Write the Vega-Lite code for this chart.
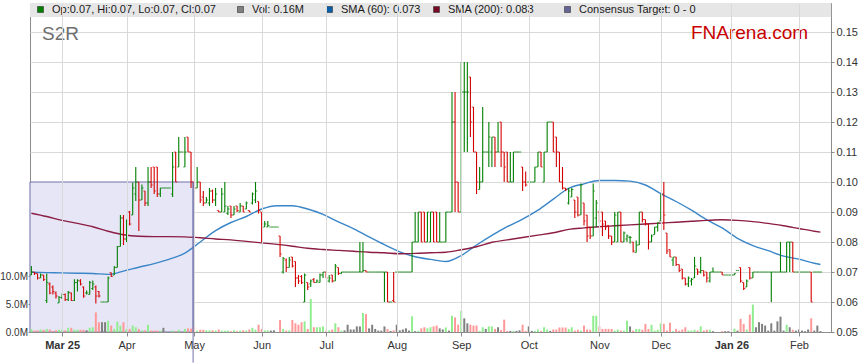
{
"$schema": "https://vega.github.io/schema/vega-lite/v6.json",
"width": 801, "height": 329,
"autosize": "none",
"padding": {"left": 30, "top": 3, "right": 28, "bottom": 31},
"background": "#ffffff",
"config": {
 "view": {"stroke": "#8c8c8c", "strokeWidth": 1},
 "font": "Liberation Sans",
 "axis": {"labelFont": "Liberation Sans", "labelFontSize": 11, "labelColor": "#333333", "domainColor": "#8c8c8c", "tickColor": "#8c8c8c", "gridColor": "#d9d9d9"},
 "legend": {"orient": "none", "legendY": 1, "direction": "horizontal", "title": null, "symbolType": "square", "symbolSize": 36, "symbolOpacity": 1, "symbolStrokeColor": "#333333", "symbolStrokeWidth": 0.6, "labelFontSize": 11, "labelFont": "Liberation Sans", "labelColor": "#1a1a1a", "labelLimit": 0, "labelOffset": 6, "padding": 0, "rowPadding": 0}
},
"datasets": {
"sma": [
{"d":"2025-02-17","a":0.0699,"b":0.0896},{"d":"2025-02-24","a":0.0698,"b":0.0885},{"d":"2025-03-03","a":0.0697,"b":0.0872},{"d":"2025-03-10","a":0.0696,"b":0.0862},{"d":"2025-03-17","a":0.0695,"b":0.0851},{"d":"2025-03-24","a":0.0692,"b":0.0836},{"d":"2025-03-31","a":0.0703,"b":0.0824},{"d":"2025-04-07","a":0.0716,"b":0.0819},{"d":"2025-04-14","a":0.0728,"b":0.0818},{"d":"2025-04-21","a":0.0743,"b":0.0818},{"d":"2025-04-28","a":0.0763,"b":0.0817},{"d":"2025-05-05","a":0.08,"b":0.0814},{"d":"2025-05-12","a":0.0838,"b":0.081},{"d":"2025-05-19","a":0.0865,"b":0.0807},{"d":"2025-05-26","a":0.0885,"b":0.0802},{"d":"2025-06-02","a":0.091,"b":0.0797},{"d":"2025-06-09","a":0.0921,"b":0.0792},{"d":"2025-06-16","a":0.0921,"b":0.0786},{"d":"2025-06-23","a":0.091,"b":0.0779},{"d":"2025-06-30","a":0.0892,"b":0.0775},{"d":"2025-07-07","a":0.0867,"b":0.0772},{"d":"2025-07-14","a":0.0844,"b":0.0769},{"d":"2025-07-21","a":0.0817,"b":0.0766},{"d":"2025-07-28","a":0.0791,"b":0.0764},{"d":"2025-08-04","a":0.0767,"b":0.0761},{"d":"2025-08-11","a":0.0751,"b":0.0762},{"d":"2025-08-18","a":0.0742,"b":0.0764},{"d":"2025-08-25","a":0.0735,"b":0.0766},{"d":"2025-09-01","a":0.0755,"b":0.0774},{"d":"2025-09-08","a":0.079,"b":0.0784},{"d":"2025-09-15","a":0.0822,"b":0.0799},{"d":"2025-09-22","a":0.0851,"b":0.0807},{"d":"2025-09-29","a":0.0876,"b":0.0815},{"d":"2025-10-06","a":0.0906,"b":0.0823},{"d":"2025-10-13","a":0.0943,"b":0.0831},{"d":"2025-10-20","a":0.0979,"b":0.0842},{"d":"2025-10-27","a":0.0994,"b":0.0847},{"d":"2025-11-03","a":0.1005,"b":0.0851},{"d":"2025-11-10","a":0.1005,"b":0.0854},{"d":"2025-11-17","a":0.1003,"b":0.0857},{"d":"2025-11-24","a":0.099,"b":0.086},{"d":"2025-12-01","a":0.0961,"b":0.0863},{"d":"2025-12-08","a":0.0935,"b":0.0866},{"d":"2025-12-15","a":0.0906,"b":0.0869},{"d":"2025-12-22","a":0.0874,"b":0.0872},{"d":"2025-12-29","a":0.0847,"b":0.0874},{"d":"2026-01-05","a":0.0812,"b":0.0872},{"d":"2026-01-12","a":0.0788,"b":0.0868},{"d":"2026-01-19","a":0.0771,"b":0.0862},{"d":"2026-01-26","a":0.0753,"b":0.0854},{"d":"2026-02-02","a":0.0743,"b":0.0845},{"d":"2026-02-09","a":0.0729,"b":0.0836},{"d":"2026-02-11","a":0.0725,"b":0.0833}
],
"bars": [
{"d":"2025-02-17","o":0.069,"h":0.072,"l":0.069,"c":0.07,"v":0.5},
{"d":"2025-02-18","o":0.07,"h":0.07,"l":0.069,"c":0.0695,"v":0.25},
{"d":"2025-02-19","o":0.0695,"h":0.0695,"l":0.0675,"c":0.068,"v":0.3},
{"d":"2025-02-20","o":0.068,"h":0.0695,"l":0.068,"c":0.069,"v":0.45},
{"d":"2025-02-21","o":0.069,"h":0.069,"l":0.067,"c":0.0675,"v":0.4},
{"d":"2025-02-24","o":0.0605,"h":0.0695,"l":0.0597,"c":0.0665,"v":0.55},
{"d":"2025-02-25","o":0.066,"h":0.0665,"l":0.0626,"c":0.063,"v":0.45},
{"d":"2025-02-26","o":0.065,"h":0.0655,"l":0.0625,"c":0.0635,"v":0.15},
{"d":"2025-02-27","o":0.063,"h":0.0635,"l":0.0612,"c":0.062,"v":0.3},
{"d":"2025-02-28","o":0.0597,"h":0.062,"l":0.0597,"c":0.0615,"v":0.4},
{"d":"2025-03-03","o":0.0615,"h":0.0628,"l":0.061,"c":0.0625,"v":0.45},
{"d":"2025-03-04","o":0.0625,"h":0.0628,"l":0.0603,"c":0.0608,"v":0.3},
{"d":"2025-03-05","o":0.0608,"h":0.0637,"l":0.0603,"c":0.0632,"v":0.75},
{"d":"2025-03-06","o":0.063,"h":0.0632,"l":0.0603,"c":0.0605,"v":0.75},
{"d":"2025-03-07","o":0.0605,"h":0.0676,"l":0.0603,"c":0.0665,"v":0.4},
{"d":"2025-03-10","o":0.0665,"h":0.0676,"l":0.0635,"c":0.0672,"v":0.4},
{"d":"2025-03-11","o":0.067,"h":0.0676,"l":0.0655,"c":0.066,"v":0.4},
{"d":"2025-03-12","o":0.065,"h":0.0652,"l":0.0614,"c":0.062,"v":0.4},
{"d":"2025-03-13","o":0.063,"h":0.0638,"l":0.0625,"c":0.063,"v":0.3},
{"d":"2025-03-14","o":0.0625,"h":0.067,"l":0.0625,"c":0.0665,"v":0.75},
{"d":"2025-03-17","o":0.0645,"h":0.0672,"l":0.064,"c":0.066,"v":0.85},
{"d":"2025-03-18","o":0.065,"h":0.0655,"l":0.0595,"c":0.062,"v":3.5},
{"d":"2025-03-19","o":0.0635,"h":0.0637,"l":0.0615,"c":0.062,"v":1.75},
{"d":"2025-03-20","o":0.06,"h":0.06,"l":0.06,"c":0.06,"v":1.75},
{"d":"2025-03-21","o":0.06,"h":0.06,"l":0.06,"c":0.06,"v":1.75},
{"d":"2025-03-24","o":0.06,"h":0.0685,"l":0.06,"c":0.068,"v":2.0},
{"d":"2025-03-25","o":0.0698,"h":0.0698,"l":0.0683,"c":0.0685,"v":1.15},
{"d":"2025-03-26","o":0.069,"h":0.072,"l":0.069,"c":0.0715,"v":0.55},
{"d":"2025-03-27","o":0.0715,"h":0.0787,"l":0.0715,"c":0.0785,"v":1.85},
{"d":"2025-03-28","o":0.0785,"h":0.089,"l":0.0785,"c":0.088,"v":1.15},
{"d":"2025-03-31","o":0.088,"h":0.089,"l":0.079,"c":0.081,"v":1.75},
{"d":"2025-04-01","o":0.081,"h":0.0875,"l":0.08,"c":0.086,"v":0.5},
{"d":"2025-04-02","o":0.09,"h":0.0903,"l":0.0855,"c":0.086,"v":0.55},
{"d":"2025-04-03","o":0.089,"h":0.0998,"l":0.089,"c":0.098,"v":1.15},
{"d":"2025-04-04","o":0.096,"h":0.105,"l":0.0937,"c":0.1,"v":0.85},
{"d":"2025-04-07","o":0.1,"h":0.1,"l":0.0837,"c":0.094,"v":0.55},
{"d":"2025-04-08","o":0.094,"h":0.0992,"l":0.094,"c":0.098,"v":0.3},
{"d":"2025-04-09","o":0.097,"h":0.097,"l":0.092,"c":0.093,"v":0.3},
{"d":"2025-04-10","o":0.093,"h":0.105,"l":0.092,"c":0.1,"v":1.3},
{"d":"2025-04-11","o":0.1,"h":0.105,"l":0.098,"c":0.099,"v":0.25},
{"d":"2025-04-14","o":0.105,"h":0.105,"l":0.096,"c":0.097,"v":0.25},
{"d":"2025-04-15","o":0.105,"h":0.105,"l":0.095,"c":0.096,"v":0.25},
{"d":"2025-04-16","o":0.096,"h":0.098,"l":0.095,"c":0.098,"v":0.25},
{"d":"2025-04-17","o":0.098,"h":0.098,"l":0.098,"c":0.098,"v":0.75},
{"d":"2025-04-18","o":0.098,"h":0.098,"l":0.098,"c":0.098,"v":0},
{"d":"2025-04-21","o":0.098,"h":0.098,"l":0.098,"c":0.098,"v":0},
{"d":"2025-04-22","o":0.096,"h":0.11,"l":0.095,"c":0.105,"v":0.25},
{"d":"2025-04-23","o":0.11,"h":0.11,"l":0.1,"c":0.1,"v":0.15},
{"d":"2025-04-24","o":0.105,"h":0.115,"l":0.105,"c":0.11,"v":0.4},
{"d":"2025-04-25","o":0.11,"h":0.11,"l":0.11,"c":0.11,"v":0},
{"d":"2025-04-28","o":0.105,"h":0.115,"l":0.105,"c":0.11,"v":0.55},
{"d":"2025-04-29","o":0.115,"h":0.115,"l":0.11,"c":0.11,"v":0.65},
{"d":"2025-04-30","o":0.11,"h":0.11,"l":0.098,"c":0.1,"v":0.6},
{"d":"2025-05-01","o":0.1,"h":0.1,"l":0.098,"c":0.098,"v":1.0},
{"d":"2025-05-02","o":0.098,"h":0.105,"l":0.098,"c":0.1,"v":0.25},
{"d":"2025-05-05","o":0.1,"h":0.1,"l":0.093,"c":0.094,"v":0.4},
{"d":"2025-05-06","o":0.095,"h":0.097,"l":0.092,"c":0.093,"v":0.4},
{"d":"2025-05-07","o":0.093,"h":0.095,"l":0.093,"c":0.094,"v":0.3},
{"d":"2025-05-08","o":0.093,"h":0.098,"l":0.092,"c":0.097,"v":0.3},
{"d":"2025-05-09","o":0.097,"h":0.0975,"l":0.093,"c":0.094,"v":0.3},
{"d":"2025-05-12","o":0.094,"h":0.098,"l":0.092,"c":0.096,"v":0.25},
{"d":"2025-05-13","o":0.0905,"h":0.0905,"l":0.09,"c":0.09,"v":0.45},
{"d":"2025-05-14","o":0.09,"h":0.098,"l":0.09,"c":0.096,"v":0.25},
{"d":"2025-05-15","o":0.09,"h":0.1,"l":0.09,"c":0.092,"v":0.25},
{"d":"2025-05-16","o":0.0895,"h":0.092,"l":0.089,"c":0.091,"v":0.25},
{"d":"2025-05-19","o":0.092,"h":0.092,"l":0.088,"c":0.089,"v":0.15},
{"d":"2025-05-20","o":0.089,"h":0.092,"l":0.089,"c":0.091,"v":0.3},
{"d":"2025-05-21","o":0.092,"h":0.092,"l":0.09,"c":0.0905,"v":0.15},
{"d":"2025-05-22","o":0.09,"h":0.093,"l":0.09,"c":0.092,"v":0.25},
{"d":"2025-05-23","o":0.092,"h":0.092,"l":0.09,"c":0.09,"v":0.3},
{"d":"2025-05-26","o":0.091,"h":0.0935,"l":0.091,"c":0.093,"v":0.25},
{"d":"2025-05-27","o":0.0905,"h":0.0905,"l":0.09,"c":0.09,"v":0.45},
{"d":"2025-05-28","o":0.093,"h":0.0965,"l":0.0925,"c":0.096,"v":0.75},
{"d":"2025-05-29","o":0.094,"h":0.1,"l":0.093,"c":0.097,"v":0.4},
{"d":"2025-05-30","o":0.0935,"h":0.0935,"l":0.0895,"c":0.0905,"v":1.3},
{"d":"2025-06-02","o":0.09,"h":0.09,"l":0.08,"c":0.086,"v":0.55},
{"d":"2025-06-03","o":0.085,"h":0.087,"l":0.085,"c":0.086,"v":0.3},
{"d":"2025-06-04","o":0.085,"h":0.087,"l":0.085,"c":0.0855,"v":0.3},
{"d":"2025-06-05","o":0.085,"h":0.085,"l":0.085,"c":0.085,"v":0.25},
{"d":"2025-06-06","o":0.085,"h":0.085,"l":0.085,"c":0.085,"v":0.3},
{"d":"2025-06-09","o":0.085,"h":0.085,"l":0.085,"c":0.085,"v":0},
{"d":"2025-06-10","o":0.082,"h":0.082,"l":0.075,"c":0.076,"v":2.15},
{"d":"2025-06-11","o":0.07,"h":0.075,"l":0.0695,"c":0.0745,"v":0.55},
{"d":"2025-06-12","o":0.074,"h":0.0745,"l":0.07,"c":0.0715,"v":0.25},
{"d":"2025-06-13","o":0.0715,"h":0.075,"l":0.0715,"c":0.074,"v":0.3},
{"d":"2025-06-16","o":0.075,"h":0.075,"l":0.0715,"c":0.072,"v":2.15},
{"d":"2025-06-17","o":0.0735,"h":0.0735,"l":0.065,"c":0.068,"v":1.55},
{"d":"2025-06-18","o":0.068,"h":0.069,"l":0.066,"c":0.067,"v":1.3},
{"d":"2025-06-19","o":0.0685,"h":0.069,"l":0.066,"c":0.0665,"v":1.75},
{"d":"2025-06-20","o":0.06,"h":0.0695,"l":0.06,"c":0.069,"v":1.9},
{"d":"2025-06-23","o":0.0665,"h":0.0665,"l":0.064,"c":0.065,"v":0.55},
{"d":"2025-06-24","o":0.066,"h":0.0675,"l":0.065,"c":0.067,"v":5.9},
{"d":"2025-06-25","o":0.0675,"h":0.068,"l":0.0665,"c":0.0665,"v":0.85},
{"d":"2025-06-26","o":0.0665,"h":0.0675,"l":0.0665,"c":0.067,"v":0.85},
{"d":"2025-06-27","o":0.0665,"h":0.0695,"l":0.0665,"c":0.069,"v":0.85},
{"d":"2025-06-30","o":0.069,"h":0.07,"l":0.068,"c":0.07,"v":1.0},
{"d":"2025-07-01","o":0.07,"h":0.07,"l":0.068,"c":0.068,"v":0.25},
{"d":"2025-07-02","o":0.067,"h":0.069,"l":0.0665,"c":0.068,"v":0.3},
{"d":"2025-07-03","o":0.069,"h":0.069,"l":0.0665,"c":0.067,"v":0.45},
{"d":"2025-07-04","o":0.067,"h":0.0727,"l":0.067,"c":0.072,"v":1.55},
{"d":"2025-07-07","o":0.0715,"h":0.0715,"l":0.069,"c":0.0695,"v":0.85},
{"d":"2025-07-08","o":0.0695,"h":0.07,"l":0.0695,"c":0.07,"v":0.25},
{"d":"2025-07-09","o":0.07,"h":0.07,"l":0.07,"c":0.07,"v":0.3},
{"d":"2025-07-10","o":0.07,"h":0.07,"l":0.07,"c":0.07,"v":1.3},
{"d":"2025-07-11","o":0.07,"h":0.07,"l":0.07,"c":0.07,"v":0.45},
{"d":"2025-07-14","o":0.07,"h":0.07,"l":0.07,"c":0.07,"v":0.45},
{"d":"2025-07-15","o":0.07,"h":0.07,"l":0.07,"c":0.07,"v":1.0},
{"d":"2025-07-16","o":0.07,"h":0.08,"l":0.07,"c":0.07,"v":1.0},
{"d":"2025-07-17","o":0.07,"h":0.08,"l":0.07,"c":0.0705,"v":3.4},
{"d":"2025-07-18","o":0.0705,"h":0.0705,"l":0.07,"c":0.07,"v":3.2},
{"d":"2025-07-21","o":0.07,"h":0.07,"l":0.07,"c":0.07,"v":0.65},
{"d":"2025-07-22","o":0.07,"h":0.07,"l":0.07,"c":0.07,"v":1.3},
{"d":"2025-07-23","o":0.07,"h":0.07,"l":0.07,"c":0.07,"v":0.55},
{"d":"2025-07-24","o":0.07,"h":0.07,"l":0.07,"c":0.07,"v":0.25},
{"d":"2025-07-25","o":0.07,"h":0.07,"l":0.07,"c":0.07,"v":0.25},
{"d":"2025-07-28","o":0.07,"h":0.07,"l":0.06,"c":0.07,"v":1.0},
{"d":"2025-07-29","o":0.07,"h":0.07,"l":0.06,"c":0.06,"v":0.55},
{"d":"2025-07-30","o":0.06,"h":0.06,"l":0.06,"c":0.06,"v":0.2},
{"d":"2025-07-31","o":0.0605,"h":0.07,"l":0.06,"c":0.06,"v":0.3},
{"d":"2025-08-01","o":0.07,"h":0.07,"l":0.07,"c":0.07,"v":1.3},
{"d":"2025-08-04","o":0.07,"h":0.07,"l":0.07,"c":0.07,"v":0.3},
{"d":"2025-08-05","o":0.07,"h":0.07,"l":0.07,"c":0.07,"v":0.45},
{"d":"2025-08-06","o":0.07,"h":0.07,"l":0.07,"c":0.07,"v":0.65},
{"d":"2025-08-07","o":0.07,"h":0.07,"l":0.07,"c":0.07,"v":0.25},
{"d":"2025-08-08","o":0.07,"h":0.08,"l":0.07,"c":0.08,"v":2.8},
{"d":"2025-08-11","o":0.08,"h":0.09,"l":0.08,"c":0.08,"v":0.15},
{"d":"2025-08-12","o":0.08,"h":0.09,"l":0.08,"c":0.09,"v":0.2},
{"d":"2025-08-13","o":0.09,"h":0.09,"l":0.08,"c":0.08,"v":0.65},
{"d":"2025-08-14","o":0.09,"h":0.09,"l":0.08,"c":0.08,"v":0.85},
{"d":"2025-08-15","o":0.08,"h":0.09,"l":0.08,"c":0.09,"v":0.65},
{"d":"2025-08-18","o":0.08,"h":0.09,"l":0.08,"c":0.09,"v":0.85},
{"d":"2025-08-19","o":0.09,"h":0.09,"l":0.08,"c":0.08,"v":1.0},
{"d":"2025-08-20","o":0.09,"h":0.09,"l":0.08,"c":0.08,"v":1.15},
{"d":"2025-08-21","o":0.08,"h":0.09,"l":0.08,"c":0.08,"v":0.65},
{"d":"2025-08-22","o":0.08,"h":0.08,"l":0.08,"c":0.08,"v":0.45},
{"d":"2025-08-25","o":0.08,"h":0.09,"l":0.08,"c":0.09,"v":0.8},
{"d":"2025-08-26","o":0.09,"h":0.09,"l":0.09,"c":0.09,"v":0.25},
{"d":"2025-08-27","o":0.09,"h":0.13,"l":0.09,"c":0.12,"v":2.9},
{"d":"2025-08-28","o":0.12,"h":0.13,"l":0.09,"c":0.1,"v":2.6},
{"d":"2025-08-29","o":0.1,"h":0.1,"l":0.09,"c":0.09,"v":1.3},
{"d":"2025-09-01","o":0.09,"h":0.14,"l":0.09,"c":0.13,"v":3.8},
{"d":"2025-09-02","o":0.13,"h":0.14,"l":0.11,"c":0.13,"v":2.45},
{"d":"2025-09-03","o":0.13,"h":0.14,"l":0.11,"c":0.13,"v":1.55},
{"d":"2025-09-04","o":0.135,"h":0.135,"l":0.115,"c":0.12,"v":1.3},
{"d":"2025-09-05","o":0.125,"h":0.125,"l":0.11,"c":0.11,"v":1.15},
{"d":"2025-09-08","o":0.11,"h":0.11,"l":0.096,"c":0.1,"v":1.15},
{"d":"2025-09-09","o":0.0975,"h":0.105,"l":0.0975,"c":0.1,"v":0.2},
{"d":"2025-09-10","o":0.1,"h":0.125,"l":0.1,"c":0.11,"v":0.85},
{"d":"2025-09-11","o":0.11,"h":0.11,"l":0.11,"c":0.11,"v":0.55},
{"d":"2025-09-12","o":0.11,"h":0.12,"l":0.105,"c":0.115,"v":1.0},
{"d":"2025-09-15","o":0.11,"h":0.115,"l":0.105,"c":0.115,"v":1.0},
{"d":"2025-09-16","o":0.115,"h":0.115,"l":0.105,"c":0.11,"v":0.55},
{"d":"2025-09-17","o":0.11,"h":0.12,"l":0.11,"c":0.11,"v":0.85},
{"d":"2025-09-18","o":0.12,"h":0.12,"l":0.105,"c":0.11,"v":0.35},
{"d":"2025-09-19","o":0.11,"h":0.11,"l":0.1,"c":0.105,"v":2.2},
{"d":"2025-09-22","o":0.11,"h":0.11,"l":0.1,"c":0.1,"v":0.2},
{"d":"2025-09-23","o":0.1,"h":0.11,"l":0.1,"c":0.1,"v":0.2},
{"d":"2025-09-24","o":0.1,"h":0.11,"l":0.1,"c":0.11,"v":0.2},
{"d":"2025-09-25","o":0.11,"h":0.11,"l":0.11,"c":0.11,"v":0.2},
{"d":"2025-09-26","o":0.11,"h":0.11,"l":0.11,"c":0.11,"v":0.3},
{"d":"2025-09-29","o":0.105,"h":0.105,"l":0.097,"c":0.1,"v":1.3},
{"d":"2025-09-30","o":0.1,"h":0.1035,"l":0.0985,"c":0.099,"v":0.2},
{"d":"2025-10-01","o":0.1,"h":0.1,"l":0.1,"c":0.1,"v":1.0},
{"d":"2025-10-02","o":0.1,"h":0.1,"l":0.1,"c":0.1,"v":0.2},
{"d":"2025-10-03","o":0.1,"h":0.105,"l":0.1,"c":0.105,"v":0.2},
{"d":"2025-10-06","o":0.105,"h":0.11,"l":0.105,"c":0.11,"v":0.45},
{"d":"2025-10-07","o":0.11,"h":0.11,"l":0.105,"c":0.105,"v":0.2},
{"d":"2025-10-08","o":0.1,"h":0.11,"l":0.1,"c":0.11,"v":0.85},
{"d":"2025-10-09","o":0.11,"h":0.12,"l":0.11,"c":0.12,"v":0.45},
{"d":"2025-10-10","o":0.12,"h":0.12,"l":0.12,"c":0.12,"v":0.2},
{"d":"2025-10-13","o":0.12,"h":0.12,"l":0.11,"c":0.11,"v":0.45},
{"d":"2025-10-14","o":0.115,"h":0.115,"l":0.105,"c":0.11,"v":0.45},
{"d":"2025-10-15","o":0.11,"h":0.11,"l":0.1,"c":0.1,"v":0.8},
{"d":"2025-10-16","o":0.1,"h":0.105,"l":0.0975,"c":0.098,"v":0.8},
{"d":"2025-10-17","o":0.098,"h":0.098,"l":0.097,"c":0.0975,"v":0.8},
{"d":"2025-10-20","o":0.093,"h":0.098,"l":0.0925,"c":0.097,"v":0.55},
{"d":"2025-10-21","o":0.095,"h":0.098,"l":0.095,"c":0.0975,"v":0.85},
{"d":"2025-10-22","o":0.094,"h":0.094,"l":0.088,"c":0.09,"v":0.25},
{"d":"2025-10-23","o":0.095,"h":0.095,"l":0.0885,"c":0.089,"v":0.4},
{"d":"2025-10-24","o":0.089,"h":0.0995,"l":0.089,"c":0.099,"v":0.25},
{"d":"2025-10-27","o":0.093,"h":0.093,"l":0.0855,"c":0.087,"v":1.15},
{"d":"2025-10-28","o":0.089,"h":0.089,"l":0.08,"c":0.082,"v":0.45},
{"d":"2025-10-29","o":0.085,"h":0.085,"l":0.081,"c":0.082,"v":0.4},
{"d":"2025-10-30","o":0.082,"h":0.0995,"l":0.082,"c":0.097,"v":2.9},
{"d":"2025-10-31","o":0.088,"h":0.094,"l":0.085,"c":0.093,"v":2.9},
{"d":"2025-11-03","o":0.09,"h":0.09,"l":0.0865,"c":0.087,"v":1.0},
{"d":"2025-11-04","o":0.09,"h":0.09,"l":0.082,"c":0.086,"v":0.55},
{"d":"2025-11-05","o":0.087,"h":0.087,"l":0.084,"c":0.085,"v":0.55},
{"d":"2025-11-06","o":0.0855,"h":0.0855,"l":0.081,"c":0.082,"v":0.55},
{"d":"2025-11-07","o":0.082,"h":0.082,"l":0.079,"c":0.08,"v":0.55},
{"d":"2025-11-10","o":0.08,"h":0.09,"l":0.08,"c":0.089,"v":0.25},
{"d":"2025-11-11","o":0.08,"h":0.09,"l":0.08,"c":0.09,"v":0.45},
{"d":"2025-11-12","o":0.09,"h":0.09,"l":0.08,"c":0.08,"v":0.25},
{"d":"2025-11-13","o":0.08,"h":0.0835,"l":0.08,"c":0.083,"v":0.25},
{"d":"2025-11-14","o":0.081,"h":0.0825,"l":0.08,"c":0.082,"v":2.0},
{"d":"2025-11-17","o":0.0815,"h":0.082,"l":0.0795,"c":0.0815,"v":1.0},
{"d":"2025-11-18","o":0.08,"h":0.08,"l":0.0765,"c":0.077,"v":0.25},
{"d":"2025-11-19","o":0.0765,"h":0.0805,"l":0.0765,"c":0.079,"v":0.55},
{"d":"2025-11-20","o":0.079,"h":0.09,"l":0.079,"c":0.09,"v":0.55},
{"d":"2025-11-21","o":0.09,"h":0.09,"l":0.0865,"c":0.0875,"v":0.4},
{"d":"2025-11-24","o":0.0875,"h":0.0875,"l":0.0855,"c":0.086,"v":1.45},
{"d":"2025-11-25","o":0.086,"h":0.086,"l":0.0775,"c":0.08,"v":0.55},
{"d":"2025-11-26","o":0.08,"h":0.0825,"l":0.08,"c":0.082,"v":1.3},
{"d":"2025-11-27","o":0.0825,"h":0.085,"l":0.0825,"c":0.085,"v":0.25},
{"d":"2025-11-28","o":0.085,"h":0.0865,"l":0.0835,"c":0.0865,"v":0.4},
{"d":"2025-12-01","o":0.087,"h":0.096,"l":0.087,"c":0.096,"v":1.55},
{"d":"2025-12-02","o":0.096,"h":0.1,"l":0.084,"c":0.089,"v":1.45},
{"d":"2025-12-03","o":0.083,"h":0.083,"l":0.076,"c":0.077,"v":0.25},
{"d":"2025-12-04","o":0.0775,"h":0.0775,"l":0.075,"c":0.075,"v":1.65},
{"d":"2025-12-05","o":0.074,"h":0.075,"l":0.072,"c":0.075,"v":0.15},
{"d":"2025-12-08","o":0.075,"h":0.075,"l":0.072,"c":0.0725,"v":0.55},
{"d":"2025-12-09","o":0.0725,"h":0.0725,"l":0.07,"c":0.0705,"v":0.25},
{"d":"2025-12-10","o":0.071,"h":0.071,"l":0.0675,"c":0.068,"v":0.45},
{"d":"2025-12-11","o":0.068,"h":0.068,"l":0.0655,"c":0.066,"v":0.85},
{"d":"2025-12-12","o":0.066,"h":0.0685,"l":0.065,"c":0.068,"v":0.25},
{"d":"2025-12-15","o":0.067,"h":0.068,"l":0.0655,"c":0.0675,"v":0.25},
{"d":"2025-12-16","o":0.068,"h":0.075,"l":0.068,"c":0.072,"v":0.4},
{"d":"2025-12-17","o":0.071,"h":0.071,"l":0.069,"c":0.07,"v":0.25},
{"d":"2025-12-18","o":0.07,"h":0.075,"l":0.0695,"c":0.0705,"v":1.0},
{"d":"2025-12-19","o":0.0705,"h":0.0705,"l":0.0685,"c":0.069,"v":0.25},
{"d":"2025-12-22","o":0.07,"h":0.07,"l":0.0665,"c":0.068,"v":0.4},
{"d":"2025-12-23","o":0.067,"h":0.07,"l":0.0665,"c":0.07,"v":0.4},
{"d":"2025-12-24","o":0.07,"h":0.0715,"l":0.07,"c":0.07,"v":0.15},
{"d":"2025-12-25","o":0.07,"h":0.07,"l":0.07,"c":0.07,"v":0},
{"d":"2025-12-26","o":0.07,"h":0.07,"l":0.07,"c":0.07,"v":0},
{"d":"2025-12-29","o":0.07,"h":0.07,"l":0.069,"c":0.069,"v":0.15},
{"d":"2025-12-30","o":0.069,"h":0.069,"l":0.069,"c":0.069,"v":0.15},
{"d":"2025-12-31","o":0.069,"h":0.069,"l":0.069,"c":0.069,"v":0.15},
{"d":"2026-01-01","o":0.069,"h":0.069,"l":0.069,"c":0.069,"v":0},
{"d":"2026-01-02","o":0.069,"h":0.0695,"l":0.069,"c":0.0695,"v":0.6},
{"d":"2026-01-05","o":0.0705,"h":0.0705,"l":0.0705,"c":0.0705,"v":0.25},
{"d":"2026-01-06","o":0.0715,"h":0.0715,"l":0.0665,"c":0.067,"v":2.35},
{"d":"2026-01-07","o":0.0665,"h":0.0665,"l":0.064,"c":0.0645,"v":1.45},
{"d":"2026-01-08","o":0.065,"h":0.0675,"l":0.065,"c":0.067,"v":0.45},
{"d":"2026-01-09","o":0.0715,"h":0.0715,"l":0.0675,"c":0.068,"v":3.1},
{"d":"2026-01-12","o":0.068,"h":0.07,"l":0.068,"c":0.07,"v":4.9},
{"d":"2026-01-13","o":0.07,"h":0.07,"l":0.07,"c":0.07,"v":0.85},
{"d":"2026-01-14","o":0.07,"h":0.07,"l":0.07,"c":0.07,"v":1.75},
{"d":"2026-01-15","o":0.07,"h":0.07,"l":0.07,"c":0.07,"v":1.45},
{"d":"2026-01-16","o":0.07,"h":0.07,"l":0.07,"c":0.07,"v":1.15},
{"d":"2026-01-19","o":0.07,"h":0.07,"l":0.07,"c":0.07,"v":0.25},
{"d":"2026-01-20","o":0.07,"h":0.07,"l":0.06,"c":0.07,"v":1.55},
{"d":"2026-01-21","o":0.07,"h":0.07,"l":0.07,"c":0.07,"v":0.25},
{"d":"2026-01-22","o":0.07,"h":0.07,"l":0.07,"c":0.07,"v":1.9},
{"d":"2026-01-23","o":0.07,"h":0.08,"l":0.07,"c":0.07,"v":2.75},
{"d":"2026-01-26","o":0.07,"h":0.07,"l":0.07,"c":0.07,"v":0.25},
{"d":"2026-01-27","o":0.07,"h":0.08,"l":0.07,"c":0.08,"v":1.3},
{"d":"2026-01-28","o":0.08,"h":0.08,"l":0.07,"c":0.08,"v":0.85},
{"d":"2026-01-29","o":0.08,"h":0.08,"l":0.07,"c":0.07,"v":0.4},
{"d":"2026-01-30","o":0.07,"h":0.07,"l":0.07,"c":0.07,"v":0.25},
{"d":"2026-02-02","o":0.07,"h":0.07,"l":0.07,"c":0.07,"v":0.45},
{"d":"2026-02-03","o":0.07,"h":0.07,"l":0.07,"c":0.07,"v":0.25},
{"d":"2026-02-04","o":0.07,"h":0.07,"l":0.07,"c":0.07,"v":0.15},
{"d":"2026-02-05","o":0.07,"h":0.07,"l":0.07,"c":0.07,"v":0.45},
{"d":"2026-02-06","o":0.07,"h":0.07,"l":0.06,"c":0.06,"v":2.45},
{"d":"2026-02-09","o":0.07,"h":0.07,"l":0.07,"c":0.07,"v":0.25},
{"d":"2026-02-10","o":0.07,"h":0.07,"l":0.07,"c":0.07,"v":1.15},
{"d":"2026-02-11","o":0.07,"h":0.07,"l":0.07,"c":0.07,"v":0.16}
]
},
"resolve": {"scale": {"y": "independent", "color": "independent"}, "axis": {"y": "independent"}, "legend": {"color": "independent"}},
"layer": [
{
 "data": {"values": [{"from": "2025-02-17", "to": "2025-05-01", "lo": 0.05, "hi": 0.1}]},
 "mark": {"type": "rect", "fill": "#e6e6f6", "stroke": "#7070aa", "strokeWidth": 1, "xOffset": -1.4, "x2Offset": -1},
 "encoding": {
  "x": {"field": "from", "type": "ordinal", "title": null},
  "x2": {"field": "to"},
  "y": {"field": "hi", "type": "quantitative", "title": null, "scale": {"domain": [0.05, 0.15967], "nice": false, "zero": false}, "axis": null},
  "y2": {"field": "lo"}
 }
},
{
 "data": {"name": "bars"},
 "mark": {"type": "bar", "size": 2},
 "encoding": {
  "x": {"field": "d", "type": "ordinal", "title": null,
   "scale": {"type": "point", "padding": 0.45, "domain": {"unionWith": ["2026-02-12", "2026-02-13", "2026-02-16"]}},
   "axis": {"values": ["2025-03-03","2025-04-01","2025-05-01","2025-06-02","2025-07-01","2025-08-01","2025-09-01","2025-10-01","2025-11-03","2025-12-01","2026-01-01","2026-02-02"],
    "labelExpr": "datum.value == '2025-03-03' ? 'Mar 25' : datum.value == '2026-01-01' ? 'Jan 26' : utcFormat(toDate(datum.value), '%b')",
    "labelFontWeight": {"condition": {"test": "datum.value == '2025-03-03' || datum.value == '2026-01-01'", "value": "bold"}, "value": "normal"},
    "grid": true, "tickSize": 4, "labelPadding": 3, "labelAngle": 0, "labelAlign": "center", "labelBaseline": "top", "labelOverlap": false, "domainColor": "#8c8c8c"}},
  "y": {"field": "v", "type": "quantitative", "title": null,
   "scale": {"domain": [0, 58.75], "nice": false},
   "axis": {"orient": "left", "values": [0, 5, 10], "tickCount": 20, "labelExpr": "format(datum.value, '.1f') + 'M'", "labelFontSize": 10, "grid": false, "domain": false, "tickSize": 2, "labelPadding": 0.5, "labelOverlap": false}},
  "color": {"condition": [{"test": "datum.c > datum.o", "value": "#90ee90"}, {"test": "datum.c < datum.o", "value": "#ff9999"}], "value": "#808080"}
 }
},
{
 "layer": [
  {
   "data": {"name": "sma"},
   "mark": {"type": "line", "color": "#3a86c8", "strokeWidth": 1.4, "interpolate": "monotone"},
   "encoding": {
    "x": {"field": "d", "type": "ordinal", "title": null},
    "y": {"field": "a", "type": "quantitative", "title": null,
     "scale": {"domain": [0.05, 0.15967], "nice": false, "zero": false},
     "axis": {"orient": "right", "values": [0.05,0.06,0.07,0.08,0.09,0.1,0.11,0.12,0.13,0.14,0.15], "tickCount": 20, "format": ".2f", "grid": true, "tickSize": 3, "labelPadding": 2, "labelOverlap": false, "labelBound": false, "domainColor": "#8c8c8c"}}
   }
  },
  {
   "data": {"name": "sma"},
   "mark": {"type": "line", "color": "#8c1d45", "strokeWidth": 1.4, "interpolate": "monotone"},
   "encoding": {
    "x": {"field": "d", "type": "ordinal", "title": null},
    "y": {"field": "b", "type": "quantitative", "title": null}
   }
  },
  {
   "data": {"name": "bars"},
   "mark": {"type": "rule", "strokeWidth": 1.1},
   "encoding": {
    "x": {"field": "d", "type": "ordinal", "title": null},
    "y": {"field": "l", "type": "quantitative", "title": null},
    "y2": {"field": "h"},
    "color": {"condition": {"test": "datum.c < datum.o", "value": "#d40000"}, "value": "#008000"}
   }
  },
  {
   "data": {"name": "bars"},
   "mark": {"type": "tick", "orient": "horizontal", "size": 1.7, "thickness": 1.1, "xOffset": -0.85},
   "encoding": {
    "x": {"field": "d", "type": "ordinal", "title": null},
    "y": {"field": "o", "type": "quantitative", "title": null},
    "color": {"condition": {"test": "datum.c < datum.o", "value": "#d40000"}, "value": "#008000"}
   }
  },
  {
   "data": {"name": "bars"},
   "mark": {"type": "tick", "orient": "horizontal", "size": 1.7, "thickness": 1.1, "xOffset": 0.85},
   "encoding": {
    "x": {"field": "d", "type": "ordinal", "title": null},
    "y": {"field": "c", "type": "quantitative", "title": null},
    "color": {"condition": {"test": "datum.c < datum.o", "value": "#d40000"}, "value": "#008000"}
   }
  },
  {
   "data": {"values": [{"d": "2025-05-01", "hi": 0.1}]},
   "mark": {"type": "rule", "color": "#7070aa", "strokeWidth": 1, "xOffset": -1},
   "encoding": {
    "x": {"field": "d", "type": "ordinal", "title": null},
    "y": {"field": "hi", "type": "quantitative", "title": null},
    "y2": {"datum": 0.0398}
   }
  },
  {
   "data": {"values": [{}]},
   "mark": {"type": "rect", "fill": "#e6e6e6", "xOffset": -1.5, "x2Offset": 1.5},
   "encoding": {
    "x": {"datum": "2025-02-17", "type": "ordinal", "title": null},
    "x2": {"datum": "2026-02-16"},
    "y": {"datum": 0.15967, "type": "quantitative", "title": null},
    "y2": {"datum": 0.155}
   }
  },
  {
   "data": {"values": [{}]},
   "mark": {"type": "text", "text": "S2R", "align": "left", "baseline": "alphabetic", "fontSize": 19, "color": "#6e6e6e", "dx": 1.5},
   "encoding": {
    "x": {"datum": "2025-02-20", "type": "ordinal", "title": null},
    "y": {"datum": 0.1472, "type": "quantitative", "title": null}
   }
  },
  {
   "data": {"values": [{}]},
   "mark": {"type": "text", "text": "FNArena.com", "align": "right", "baseline": "alphabetic", "fontSize": 19, "color": "#c80000"},
   "encoding": {
    "x": {"datum": "2026-02-05", "type": "ordinal", "title": null},
    "y": {"datum": 0.1477, "type": "quantitative", "title": null}
   }
  }
 ]
},
{
 "data": {"values": [{"k": "Op:0.07, Hi:0.07, Lo:0.07, Cl:0.07"}]},
 "mark": {"type": "square", "opacity": 0},
 "encoding": {"color": {"field": "k", "type": "nominal", "scale": {"range": ["#008000"]}, "legend": {"legendX": 5}}}
},
{
 "data": {"values": [{"k": "Vol: 0.16M"}]},
 "mark": {"type": "square", "opacity": 0},
 "encoding": {"color": {"field": "k", "type": "nominal", "scale": {"range": ["#808080"]}, "legend": {"legendX": 205}}}
},
{
 "data": {"values": [{"k": "SMA (60): 0.073"}]},
 "mark": {"type": "square", "opacity": 0},
 "encoding": {"color": {"field": "k", "type": "nominal", "scale": {"range": ["#0b5ea8"]}, "legend": {"legendX": 294}}}
},
{
 "data": {"values": [{"k": "SMA (200): 0.083"}]},
 "mark": {"type": "square", "opacity": 0},
 "encoding": {"color": {"field": "k", "type": "nominal", "scale": {"range": ["#780a28"]}, "legend": {"legendX": 401}}}
},
{
 "data": {"values": [{"k": "Consensus Target: 0 - 0"}]},
 "mark": {"type": "square", "opacity": 0},
 "encoding": {"color": {"field": "k", "type": "nominal", "scale": {"range": ["#646496"]}, "legend": {"legendX": 532}}}
}
]
}
